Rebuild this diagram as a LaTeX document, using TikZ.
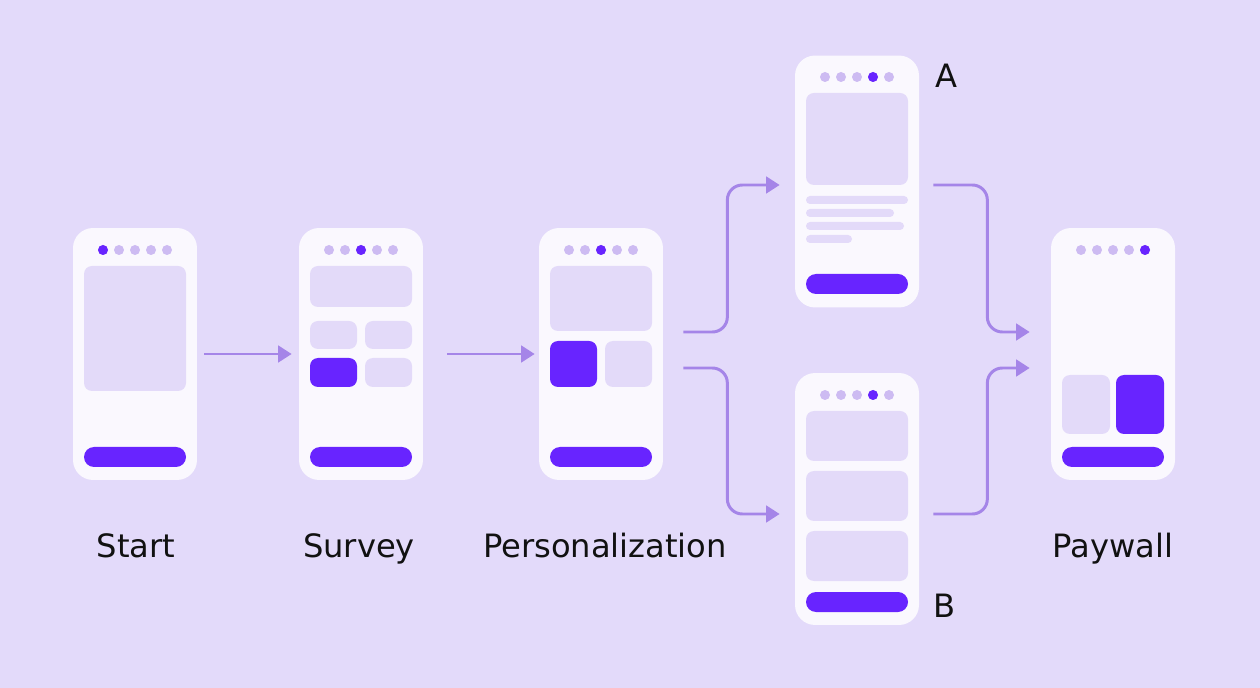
\documentclass[tikz,border=0pt]{standalone}
\usepackage{fontspec}
\setmainfont{DejaVu Sans}
\usepackage{tikz}
\usetikzlibrary{arrows.meta,positioning,calc}

\definecolor{bgc}{HTML}{E3DAFA}
\definecolor{phonec}{HTML}{FAF8FE}
\definecolor{blockc}{HTML}{E3DAF9}
\definecolor{dotc}{HTML}{CDBBF2}
\definecolor{activec}{HTML}{6824FF}
\definecolor{arrowc}{HTML}{A585E8}
\definecolor{ink}{HTML}{111111}

\begin{document}
\begin{tikzpicture}[
  x=0.02cm, y=-0.02cm,
  phone/.style={fill=phonec, rounded corners=0.4cm, minimum width=2.48cm, minimum height=5.04cm, inner sep=0pt},
  blk/.style={fill=blockc, rounded corners=0.16cm},
  act/.style={fill=activec, rounded corners=0.16cm},
  txtline/.style={fill=blockc, rounded corners=0.08cm},
  btn/.style={fill=activec, rounded corners=0.2cm},
  lbl/.style={font=\fontsize{18.3}{22}\selectfont, anchor=base, text=ink, inner sep=0pt},
  arr/.style={draw=arrowc, line width=1.7pt, rounded corners=0.3cm, -{Triangle[length=0.27cm, width=0.33cm]}}
]
\useasboundingbox (0,0) rectangle (1260,688);
\fill[bgc] (0,0) rectangle (1260,688);

% screens
\node[phone] (start) at (135,354) {};
\node[phone] (survey) at (361,354) {};
\node[phone] (pers) at (601,354) {};
\node[phone] (varA) at (857,181.5) {};
\node[phone] (varB) at (857,499) {};
\node[phone] (paywall) at (1113,354) {};

% progress dots
\foreach \cx/\dy/\on in {135/250/0, 361/250/2, 601/250/2, 857/77/3, 857/395/3, 1113/250/4} {
  \foreach \i in {0,...,4}
    \fill[dotc] (\cx-32+16*\i,\dy) circle (0.1cm);
  \fill[activec] (\cx-32+16*\on,\dy) circle (0.1cm);
}

% start
\fill[blk] (84,266) rectangle (186,391);
\fill[btn] (84,447) rectangle (186,467);

% survey
\fill[blk] (310,266) rectangle (412,307);
\fill[blk] (310,321) rectangle (357,349);
\fill[blk] (365,321) rectangle (412,349);
\fill[act] (310,358) rectangle (357,387);
\fill[blk] (365,358) rectangle (412,387);
\fill[btn] (310,447) rectangle (412,467);

% personalization
\fill[blk] (550,266) rectangle (652,331);
\fill[act] (550,341) rectangle (597,387);
\fill[blk] (605,341) rectangle (652,387);
\fill[btn] (550,447) rectangle (652,467);

% variant A
\fill[blk] (806,93) rectangle (908,185);
\fill[txtline] (806,196) rectangle (908,204);
\fill[txtline] (806,209) rectangle (894,217);
\fill[txtline] (806,222) rectangle (904,230);
\fill[txtline] (806,235) rectangle (852,243);
\fill[btn] (806,274) rectangle (908,294);

% variant B
\fill[blk] (806,411) rectangle (908,461);
\fill[blk] (806,471) rectangle (908,521);
\fill[blk] (806,531) rectangle (908,581);
\fill[btn] (806,592) rectangle (908,612);

% paywall
\fill[blk] (1062,375) rectangle (1110,434);
\fill[act] (1116,375) rectangle (1164,434);
\fill[btn] (1062,447) rectangle (1164,467);

% labels
\node[lbl] (lstart) at (136,558) {Start};
\node[lbl] (lsurvey) at (359,558) {Survey};
\node[lbl] (lpers) at (605,558) {Personalization};
\node[lbl] (lpay) at (1113,558) {Paywall};
\node[lbl] (la) at (946,88) {A};
\node[lbl] (lb) at (945,617) {B};

% flow
\draw[arr, shorten <=0.14cm, shorten >=0.14cm] (start) -- (survey);
\draw[arr, shorten <=0.48cm, shorten >=0.08cm] (survey) -- (pers);
\draw[arr] ([shift={(20,-22)}]pers.east) -- ++(44,0) |- ([shift={(-15,3.5)}]varA.west);
\draw[arr] ([shift={(20,14)}]pers.east) -- ++(44,0) |- ([shift={(-15,15)}]varB.west);
\draw[arr] ([shift={(14,3.5)}]varA.east) -- ++(54,0) |- ([shift={(-21,-22)}]paywall.west);
\draw[arr] ([shift={(14,15)}]varB.east) -- ++(54,0) |- ([shift={(-21,14)}]paywall.west);
\end{tikzpicture}
\end{document}
